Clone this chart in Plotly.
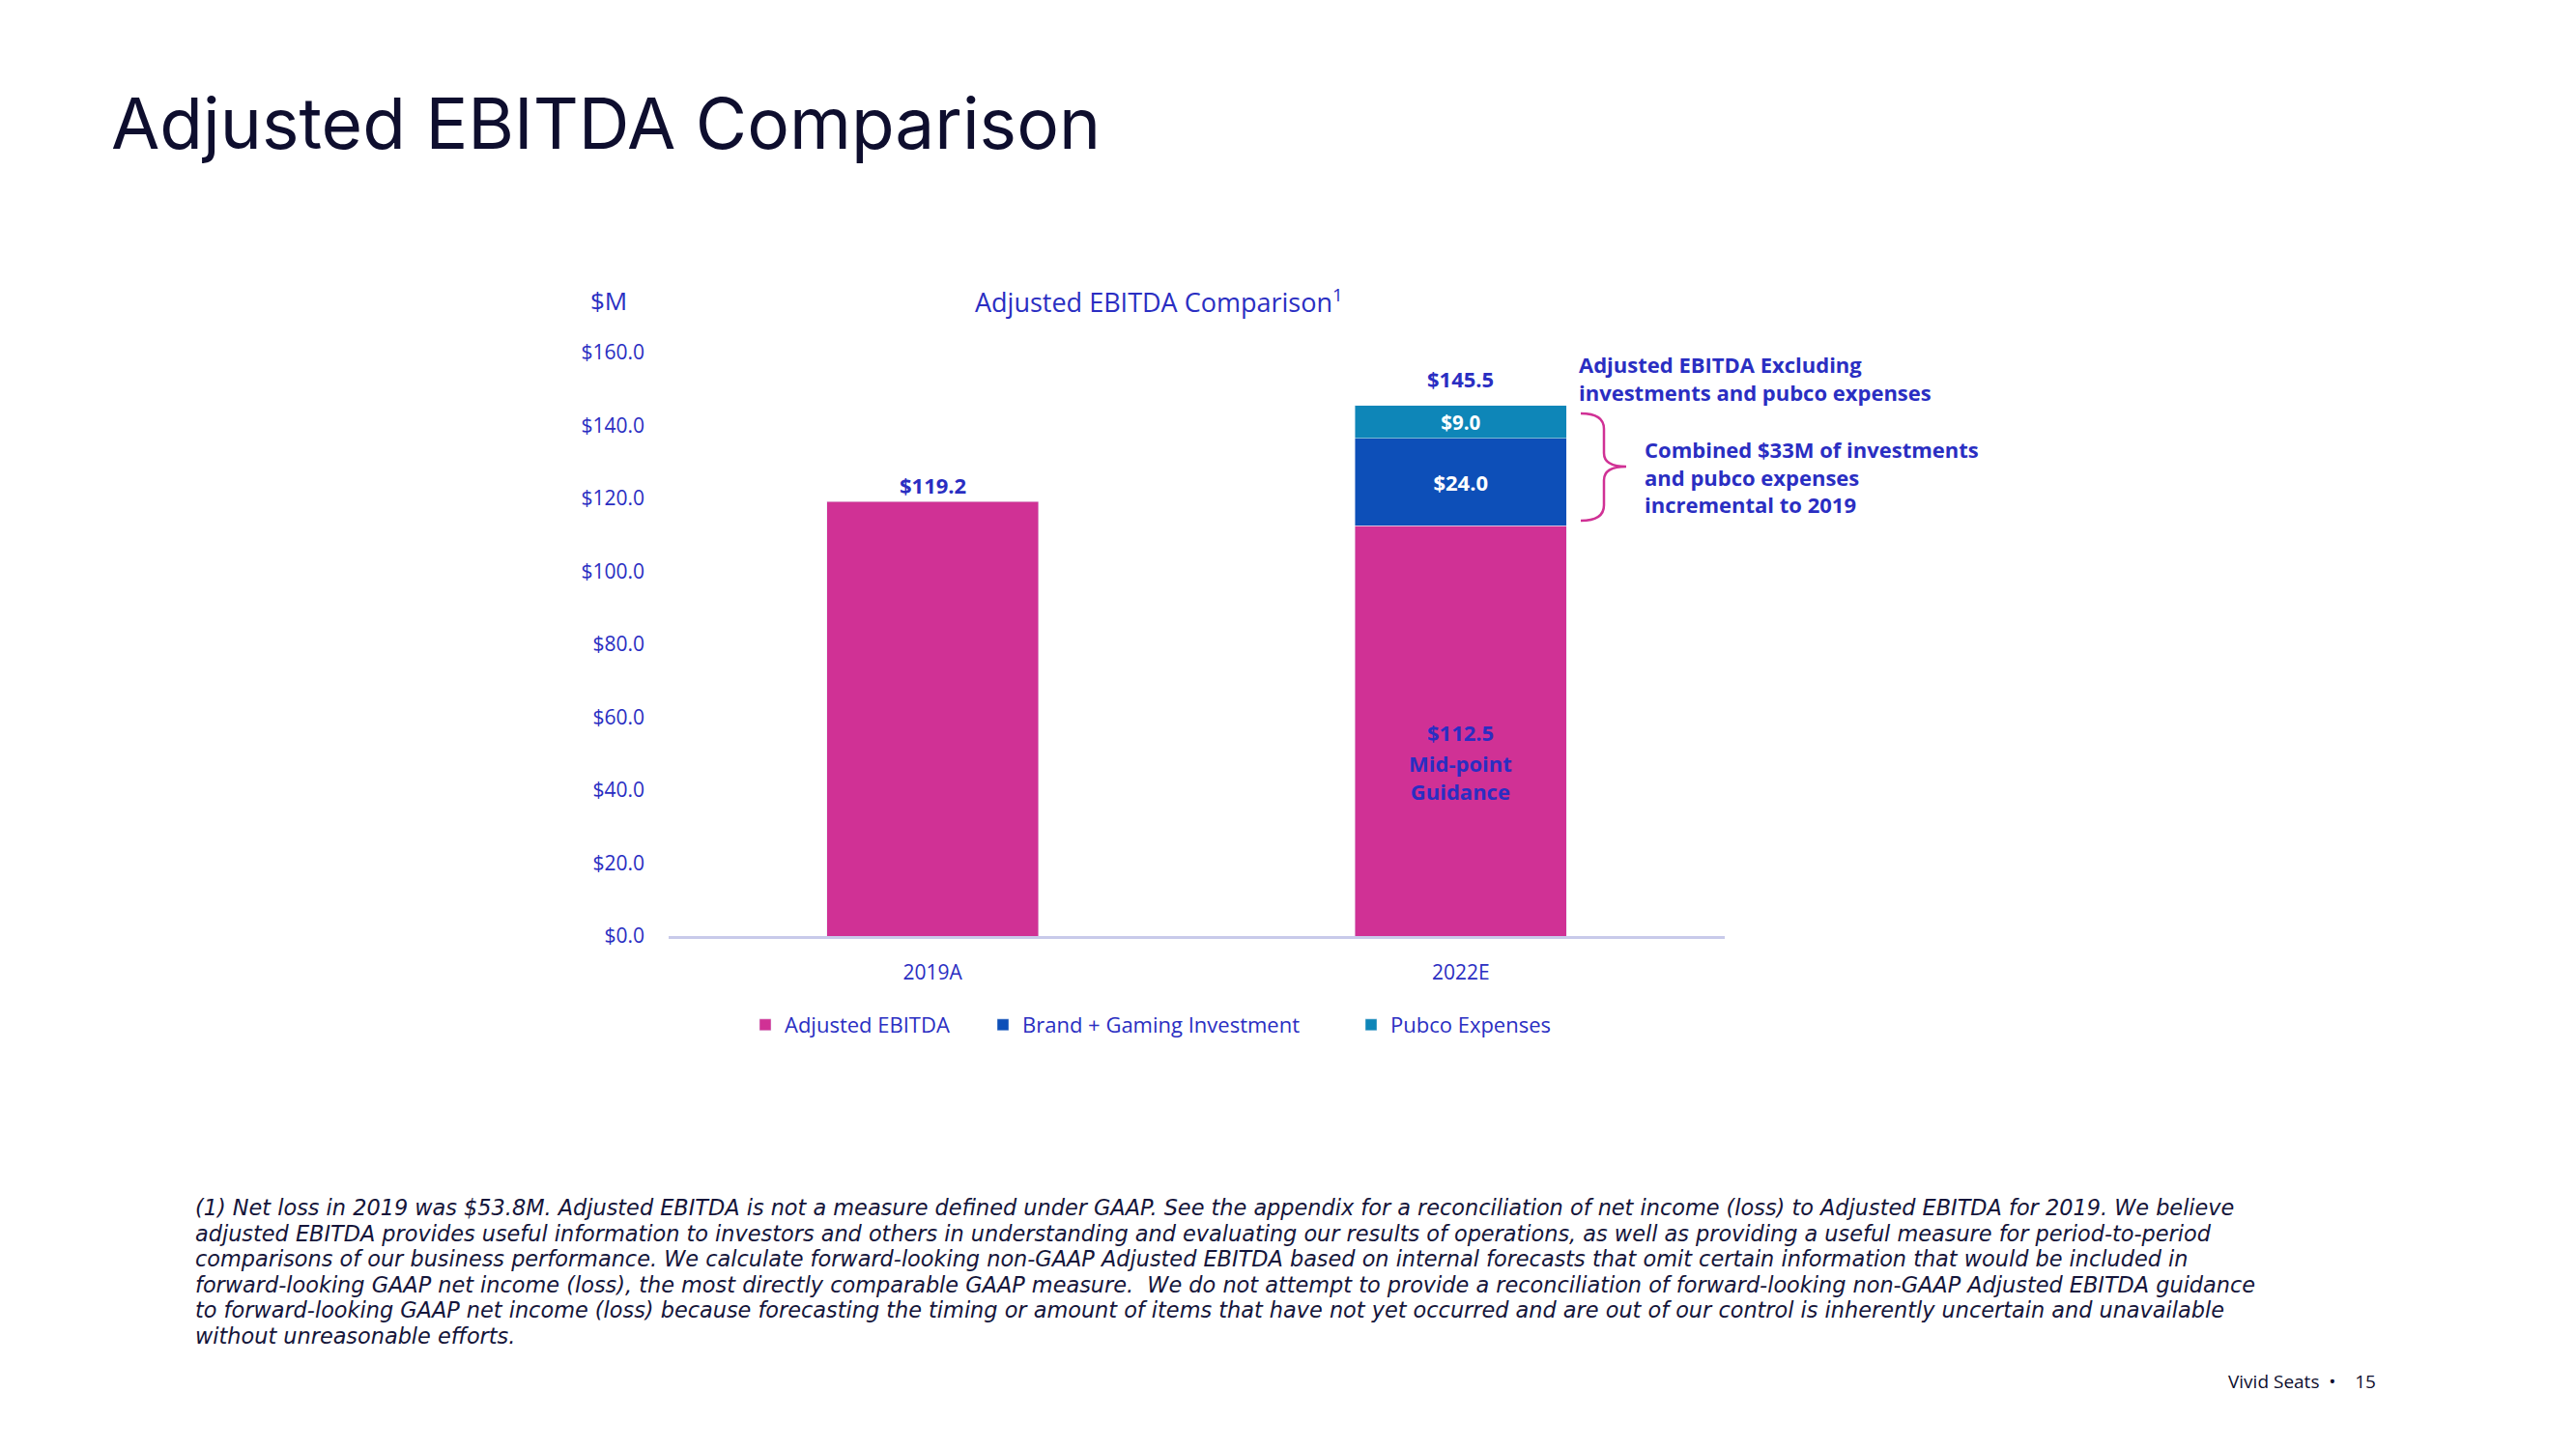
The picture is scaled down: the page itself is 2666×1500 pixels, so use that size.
import plotly.graph_objects as go

# ---------------- data ----------------
categories = ["2019A", "2022E"]
adj_ebitda = [119.2, 112.5]
brand_gaming = [0, 24.0]
pubco = [0, 9.0]
totals = [119.2, 145.5]
series_names = ["Adjusted EBITDA", "Brand + Gaming Investment", "Pubco Expenses"]
y_ticks = [0, 20, 40, 60, 80, 100, 120, 140, 160]
y_tick_labels = ["$0.0", "$20.0", "$40.0", "$60.0", "$80.0", "$100.0", "$120.0", "$140.0", "$160.0"]

footnote_lines = [
    "(1) Net loss in 2019 was $53.8M. Adjusted EBITDA is not a measure defined under GAAP. See the appendix for a reconciliation of net income (loss) to Adjusted EBITDA for 2019. We believe",
    "adjusted EBITDA provides useful information to investors and others in understanding and evaluating our results of operations, as well as providing a useful measure for period-to-period",
    "comparisons of our business performance. We calculate forward-looking non-GAAP Adjusted EBITDA based on internal forecasts that omit certain information that would be included in",
    "forward-looking GAAP net income (loss), the most directly comparable GAAP measure.  We do not attempt to provide a reconciliation of forward-looking non-GAAP Adjusted EBITDA guidance",
    "to forward-looking GAAP net income (loss) because forecasting the timing or amount of items that have not yet occurred and are out of our control is inherently uncertain and unavailable",
    "without unreasonable efforts.",
]

# ---------------- style ----------------
W, H = 2666, 1500
PINK = "#D03195"
DBLUE = "#0D4FB8"
TEAL = "#0E86B8"
TXT_BLUE = "#2A2EC2"
NAVY = "#0E0E2E"
FONT = "Open Sans"


def px(x):
    return x / W


def py(y):
    return 1 - y / H


def nz(vals):
    return [v if v else None for v in vals]


fig = go.Figure()
fig.add_trace(go.Bar(
    x=categories, y=adj_ebitda, name=series_names[0], marker_color=PINK,
    legend="legend", hoverinfo="skip",
))
fig.add_trace(go.Bar(
    x=categories, y=nz(brand_gaming), name=series_names[1], marker_color=DBLUE,
    texttemplate="$%{y:.1f}",
    textposition="inside", insidetextanchor="middle", textangle=0,
    textfont=dict(family=FONT, size=22, color="white", weight="bold"),
    legend="legend2", hoverinfo="skip",
))
fig.add_trace(go.Bar(
    x=categories, y=nz(pubco), name=series_names[2], marker_color=TEAL,
    texttemplate="$%{y:.1f}",
    textposition="inside", insidetextanchor="middle", textangle=0,
    textfont=dict(family=FONT, size=22, color="white", weight="bold"),
    legend="legend3", hoverinfo="skip",
))

annotations = []
# total labels above bars
for cat, tot, shift in zip(categories, totals, [0, 11]):
    annotations.append(dict(
        x=cat, y=tot, xref="x", yref="y", text=f"<b>${tot:.1f}</b>",
        showarrow=False, xanchor="center", yanchor="bottom", yshift=shift,
        font=dict(family=FONT, size=22, color=TXT_BLUE),
    ))
# mid-point guidance label
annotations.append(dict(
    x=categories[1], y=py(758), xref="x", yref="paper",
    text=f"<b>${adj_ebitda[1]:.1f}</b>", showarrow=False,
    xanchor="center", yanchor="middle",
    font=dict(family=FONT, size=22, color=TXT_BLUE),
))
annotations.append(dict(
    x=categories[1], y=py(805), xref="x", yref="paper",
    text="<b>Mid-point<br>Guidance</b>", showarrow=False,
    xanchor="center", yanchor="middle",
    font=dict(family=FONT, size=22, color=TXT_BLUE),
))
# right side notes
annotations.append(dict(
    x=px(1632), y=py(392), xref="paper", yref="paper", xanchor="left", yanchor="middle",
    align="left", showarrow=False,
    text="<b>Adjusted EBITDA Excluding<br>investments and pubco expenses</b>",
    font=dict(family=FONT, size=22, color=TXT_BLUE),
))
annotations.append(dict(
    x=px(1700), y=py(493), xref="paper", yref="paper", xanchor="left", yanchor="middle",
    align="left", showarrow=False,
    text="<b>Combined $33M of investments<br>and pubco expenses<br>incremental to 2019</b>",
    font=dict(family=FONT, size=22, color=TXT_BLUE),
))
# axis unit and chart title
annotations.append(dict(
    x=px(630), y=py(311), xref="paper", yref="paper", showarrow=False,
    xanchor="center", yanchor="middle",
    text="$M", font=dict(family=FONT, size=26, color=TXT_BLUE),
))
annotations.append(dict(
    x=px(1199), y=py(311), xref="paper", yref="paper", showarrow=False,
    xanchor="center", yanchor="middle",
    text="Adjusted EBITDA Comparison<sup>1</sup>",
    font=dict(family=FONT, size=27, color=TXT_BLUE),
))
# page title
annotations.append(dict(
    x=px(113), y=py(127), xref="paper", yref="paper", xanchor="left", yanchor="middle",
    showarrow=False, text="Adjusted EBITDA Comparison",
    font=dict(family="Inter", size=73, color=NAVY),
))
# footnote
for i, line in enumerate(footnote_lines):
    annotations.append(dict(
        x=px(200), y=py(1250 + i * 26.5), xref="paper", yref="paper",
        xanchor="left", yanchor="middle", align="left", showarrow=False,
        text=f"<i>{line}</i>",
        font=dict(family="DejaVu Sans", size=22.4, color="#15153A"),
    ))
# footer
annotations.append(dict(
    x=px(2304), y=py(1430), xref="paper", yref="paper", xanchor="left", yanchor="middle",
    showarrow=False, text="Vivid Seats  \u2022    15",
    font=dict(family=FONT, size=19, color=NAVY),
))

# brace
bx = [1636, 1660, 1683]
by = [428, 483, 539]
path = (
    f"M {px(bx[0])} {py(by[0])} "
    f"Q {px(bx[1])} {py(by[0])} {px(bx[1])} {py(by[0] + 16)} "
    f"L {px(bx[1])} {py(by[1] - 14)} "
    f"Q {px(bx[1])} {py(by[1])} {px(bx[2])} {py(by[1])} "
    f"Q {px(bx[1])} {py(by[1])} {px(bx[1])} {py(by[1] + 14)} "
    f"L {px(bx[1])} {py(by[2] - 16)} "
    f"Q {px(bx[1])} {py(by[2])} {px(bx[0])} {py(by[2])}"
)
shapes = [dict(type="path", xref="paper", yref="paper", path=path,
               line=dict(color=PINK, width=2.5))]

legend_common = dict(
    orientation="h", yanchor="middle", xanchor="left",
    font=dict(family=FONT, size=22, color=TXT_BLUE),
    bgcolor="rgba(0,0,0,0)", itemclick=False, itemdoubleclick=False,
)

fig.update_layout(
    width=W, height=H,
    margin=dict(l=0, r=0, t=0, b=0, pad=0, autoexpand=False),
    paper_bgcolor="white", plot_bgcolor="white",
    barmode="stack", bargap=0.6,
    showlegend=True,
    legend=dict(x=px(772), y=py(1061), **legend_common),
    legend2=dict(x=px(1018), y=py(1061), **legend_common),
    legend3=dict(x=px(1399), y=py(1061), **legend_common),
    xaxis=dict(
        domain=[px(692), px(1785)], showgrid=False, showline=True, automargin=False,
        linecolor="#C8CAEA", linewidth=2.5, ticks="", ticklabelstandoff=17,
        tickfont=dict(family=FONT, size=21, color=TXT_BLUE), fixedrange=True,
    ),
    yaxis=dict(
        domain=[py(969), py(365)], range=[0, 160], tickmode="array",
        tickvals=y_ticks, ticktext=y_tick_labels, automargin=False,
        showgrid=False, zeroline=False,
        showline=False, ticks="", ticklabelstandoff=24,
        tickfont=dict(family=FONT, size=21, color=TXT_BLUE), fixedrange=True,
    ),
    annotations=annotations,
    shapes=shapes,
)

fig.write_html(
    "out.html",
    config={"displayModeBar": False},
    post_script="document.body.style.margin='0';document.body.style.overflow='hidden';",
)
